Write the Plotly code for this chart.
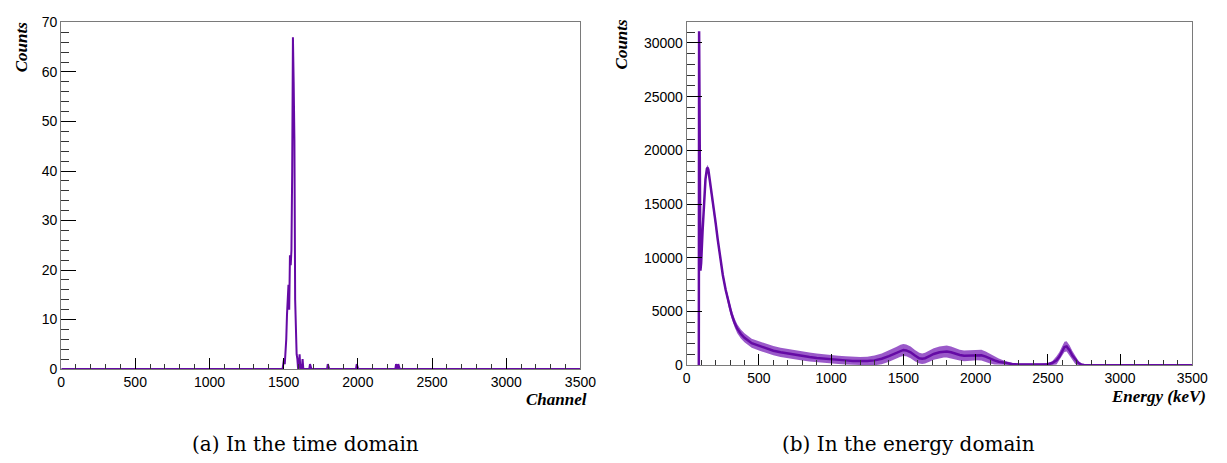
import numpy as np
import plotly.graph_objects as go

# ---- (a) time domain: channel histogram, 5-channel bins, non-empty bins only ----
time_bin_low = [1495, 1500, 1505, 1510, 1515, 1520, 1525, 1530, 1535, 1540, 1545, 1550,
                1555, 1560, 1565, 1570, 1575, 1580, 1585, 1590, 1600, 1605, 1615, 1625,
                1675, 1795, 1990, 2255, 2270]
time_counts = [1, 2, 1, 3, 6, 11, 14, 17, 12, 23, 21, 24,
               40, 67, 58, 46, 14, 6, 3, 2, 1, 3, 1, 2,
               1, 1, 1, 1, 1]
time_bin_width = 5
time_range = [0, 3500]

# ---- (b) energy domain: spectrum level and spread of the bin-to-bin fluctuation ----
energy_kev = [84, 86, 95, 100, 110, 120, 130, 140, 145, 150, 160, 170, 180, 190, 200,
              215, 230, 250, 270, 290, 310, 330, 350, 375, 400, 450, 500, 550, 600, 650,
              700, 750, 800, 850, 900, 950, 1000, 1050, 1100, 1150, 1200, 1250, 1300,
              1350, 1400, 1450, 1480, 1500, 1520, 1550, 1580, 1610, 1630, 1650, 1680,
              1710, 1750, 1780, 1800, 1830, 1860, 1890, 1920, 1950, 1980, 2010, 2040,
              2070, 2100, 2130, 2160, 2200, 2250, 2300, 2350, 2400, 2450, 2500, 2530,
              2560, 2580, 2600, 2615, 2630, 2650, 2670, 2690, 2710, 2730, 2750, 2800, 3500]
energy_counts = [0, 31100, 8800, 9500, 12500, 15200, 17300, 18300, 18400, 18200, 17300,
                 16300, 15300, 14300, 13300, 11700, 10200, 8400, 7000, 5800, 4800, 4000,
                 3400, 2900, 2550, 2050, 1800, 1550, 1350, 1200, 1080, 950, 850, 760, 680,
                 610, 560, 500, 450, 400, 380, 390, 450, 600, 850, 1150, 1350, 1420, 1380,
                 1200, 900, 650, 600, 650, 850, 1050, 1200, 1260, 1280, 1200, 1050, 950,
                 880, 900, 950, 970, 930, 800, 600, 450, 320, 200, 110, 70, 60, 60, 70, 100,
                 200, 450, 800, 1350, 1700, 1750, 1400, 900, 500, 220, 80, 20, 0, 0]
energy_spread = [0, 0, 0, 200, 250, 250, 250, 250, 250, 250, 250, 250, 250, 250, 250,
                 300, 320, 340, 360, 380, 400, 400, 420, 420, 420, 420, 430, 430, 430, 430,
                 430, 430, 420, 420, 420, 400, 400, 380, 380, 380, 380, 400, 450, 500, 520,
                 540, 550, 560, 550, 540, 520, 500, 480, 500, 520, 540, 550, 550, 550, 540,
                 520, 500, 500, 500, 500, 500, 500, 480, 450, 380, 300, 220, 130, 80, 70,
                 70, 80, 110, 170, 380, 430, 450, 480, 480, 460, 420, 380, 220, 110, 50, 0, 0]

PURPLE = "#650aa5"
BAND = "rgba(115, 25, 180, 0.72)"
FRAME = "#7a7a7a"
TICK_FONT = dict(family="Liberation Sans, Arial", size=14, color="black")
TITLE_FONT = dict(family="Liberation Serif, Times New Roman, serif", size=17, color="black",
                  weight="bold", style="italic")
CAPTION_FONT = dict(family="DejaVu Serif", size=20, color="black")

# full histogram for (a): every bin, empty ones at zero
edges = np.arange(time_range[0], time_range[1] + time_bin_width, time_bin_width)
hist = np.zeros(len(edges), dtype=float)
for low, cnt in zip(time_bin_low, time_counts):
    hist[(low - time_range[0]) // time_bin_width] = cnt
centers = edges + time_bin_width / 2.0
centers[-1] = time_range[1]

e = np.array(energy_kev, dtype=float)
c = np.array(energy_counts, dtype=float)
s = np.array(energy_spread, dtype=float)
upper = c + s
lower = np.maximum(c - s, 0)

fig = go.Figure()

fig.add_trace(go.Scatter(x=centers, y=hist, mode="lines",
                         line=dict(color=PURPLE, width=2),
                         xaxis="x", yaxis="y", showlegend=False))

fig.add_trace(go.Scatter(x=np.concatenate([e, e[::-1]]),
                         y=np.concatenate([upper, lower[::-1]]),
                         mode="lines", fill="toself", fillcolor=BAND,
                         line=dict(width=0), hoverinfo="skip",
                         xaxis="x2", yaxis="y2", showlegend=False))
fig.add_trace(go.Scatter(x=e, y=c, mode="lines",
                         line=dict(color=PURPLE, width=2.5),
                         xaxis="x2", yaxis="y2", showlegend=False))

W, H = 1227, 463


def px_x(p):
    return p / W


def px_y(p):
    return 1 - p / H


def xaxis(domain, anchor):
    return dict(domain=domain, anchor=anchor, range=[0, 3500],
                tickvals=list(range(0, 3501, 500)),
                ticks="inside", ticklen=11, tickwidth=1, tickcolor="black",
                minor=dict(dtick=100, tick0=0, ticks="inside", ticklen=5,
                           tickwidth=1, tickcolor="#333333"),
                showline=True, linecolor=FRAME, linewidth=1, mirror=True,
                showgrid=False, zeroline=False, tickfont=TICK_FONT, tickformat="d")


def yaxis(domain, anchor, rng, dtick, minor):
    return dict(domain=domain, anchor=anchor, range=rng,
                tickvals=list(range(0, int(rng[1]) + 1, dtick)),
                ticks="inside", ticklen=15, tickwidth=1, tickcolor="black",
                minor=dict(dtick=minor, tick0=0, ticks="inside", ticklen=8,
                           tickwidth=1, tickcolor="#333333"),
                showline=True, linecolor=FRAME, linewidth=1, mirror=True,
                showgrid=False, zeroline=False, tickfont=TICK_FONT, tickformat="d")


fig.update_layout(
    width=W, height=H,
    margin=dict(l=0, r=0, t=0, b=0),
    paper_bgcolor="white", plot_bgcolor="white",
    xaxis=xaxis([px_x(58), px_x(586)], "y"),
    yaxis=yaxis([px_y(374), px_y(15)], "x", [0, 70], 10, 2),
    xaxis2=xaxis([px_x(694), px_x(1208)], "y2"),
    yaxis2=yaxis([px_y(370), px_y(14)], "x2", [0, 32000], 5000, 1000),
)

annotations = [
    dict(text="Counts", x=px_x(18), y=px_y(41), textangle=-90, font=TITLE_FONT),
    dict(text="Channel", x=px_x(595), y=px_y(405), xanchor="right", font=TITLE_FONT),
    dict(text="Counts", x=px_x(628), y=px_y(38), textangle=-90, font=TITLE_FONT),
    dict(text="Energy (keV)", x=px_x(1224), y=px_y(402), xanchor="right", font=TITLE_FONT),
    dict(text="(a) In the time domain", x=px_x(306), y=px_y(452), font=CAPTION_FONT),
    dict(text="(b) In the energy domain", x=px_x(919), y=px_y(452), font=CAPTION_FONT),
]
for a in annotations:
    a.setdefault("xanchor", "center")
    fig.add_annotation(xref="paper", yref="paper", showarrow=False, yanchor="middle", **a)

fig.write_html("out.html")
